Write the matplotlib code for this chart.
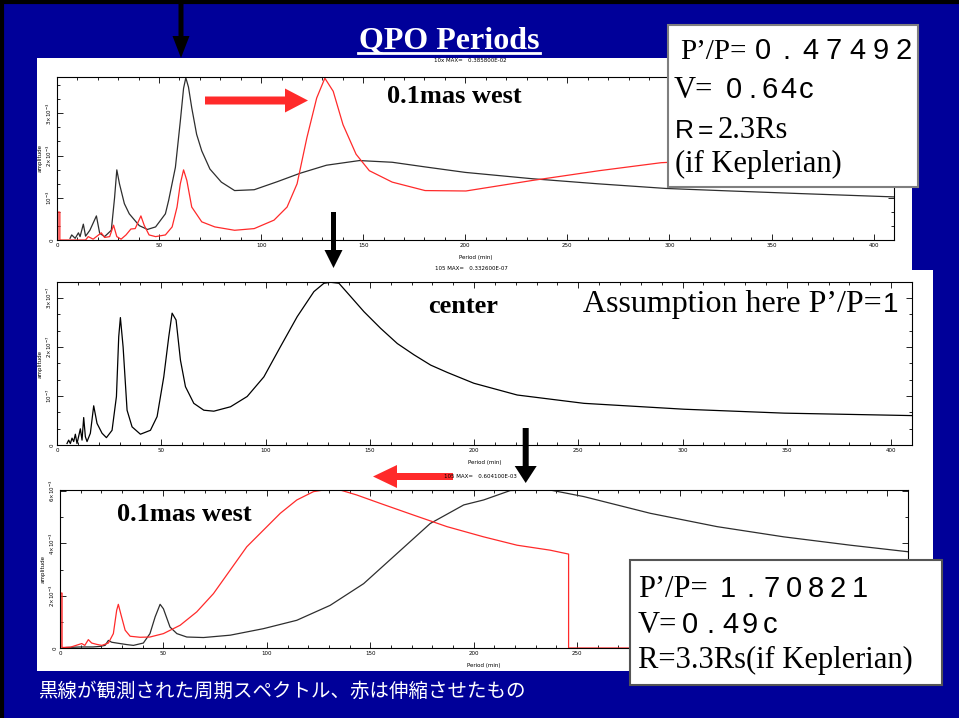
import matplotlib.pyplot as plt
from matplotlib import patches
from matplotlib.ticker import MultipleLocator

W, H = 959, 718
BLUE = "#000099"
RED = "#ff2a2a"
DARK = "#2e2e2e"
SERIF = ["Liberation Serif", "Noto Sans CJK JP"]
NARROW = ["Liberation Sans Narrow", "Liberation Sans", "DejaVu Sans"]

# --- panel 1: 0.1 mas west, stretched (amplitude in 1e-3) ---
west1_obs_period = [6.4, 7.2, 8.9, 10.5, 11.3, 12.9, 14.0, 16.1, 19.3, 20.9, 23.3, 26.6,
                    28.2, 29.3, 30.6, 33.0, 35.4, 40.3, 44.3, 48.3, 53.1, 54.7, 58.0, 60.4,
                    62.0, 63.1, 64.4, 66.0, 68.4, 70.9, 74.9, 80.5, 87.0, 96.6, 107.9, 119.1,
                    132.0, 148.1, 164.2, 180.3, 200.0, 232.8, 265.0, 298.3, 330.0, 363.3, 410.0]
west1_obs_amp = [0.04, 0.12, 0.04, 0.17, 0.08, 0.375, 0.09, 0.23, 0.57, 0.16, 0.08, 0.23,
                 1.0, 1.66, 1.33, 0.86, 0.62, 0.34, 0.25, 0.31, 0.62, 0.94, 1.72, 2.81,
                 3.59, 3.84, 3.62, 3.13, 2.5, 2.11, 1.68, 1.37, 1.17, 1.19, 1.38, 1.58,
                 1.77, 1.88, 1.84, 1.73, 1.60, 1.45, 1.33, 1.22, 1.16, 1.10, 1.02]
west1_str_period = [0.0, 0.5, 0.5, 1.4, 1.4, 14.0, 15.3, 17.7, 21.7, 23.3, 25.8, 27.7,
                    29.3, 31.4, 33.8, 36.2, 38.3, 41.1, 42.7, 45.1, 48.3, 53.1, 56.4, 58.8,
                    60.4, 62.0, 63.6, 66.0, 70.9, 77.3, 87.0, 96.6, 106.3, 112.7, 117.6, 122.4,
                    127.2, 131.2, 135.3, 140.1, 146.5, 153.0, 164.2, 180.3, 200.3, 232.9, 265.5,
                    296.0, 320.0, 350.0, 380.0, 410.0]
west1_str_amp = [0.0, 0.0, 0.66, 0.66, 0.0, 0.0, 0.08, 0.02, 0.17, 0.06, 0.08, 0.35,
                 0.08, 0.02, 0.12, 0.26, 0.27, 0.57, 0.35, 0.12, 0.08, 0.12, 0.31, 0.78,
                 1.33, 1.66, 1.41, 0.78, 0.43, 0.31, 0.23, 0.27, 0.47, 0.78, 1.33, 2.42,
                 3.36, 3.83, 3.52, 2.73, 2.03, 1.64, 1.37, 1.17, 1.16, 1.41, 1.64,
                 1.83, 1.88, 1.86, 1.80, 1.74]

# --- panel 2: center (amplitude in 1e-7) ---
center_period = [4.8, 5.6, 6.4, 7.2, 8.0, 8.8, 9.6, 11.2, 12.0, 12.8, 13.6, 14.4, 16.0,
                 17.6, 19.2, 21.6, 23.7, 26.4, 28.5, 29.6, 30.4, 31.7, 33.6, 36.0, 40.0,
                 44.8, 48.0, 51.2, 53.6, 55.2, 57.1, 59.2, 61.6, 65.6, 70.4, 75.2, 83.2,
                 91.2, 99.2, 107.2, 115.2, 123.2, 128.0, 131.2, 135.2, 140.8, 147.2, 155.2,
                 163.2, 171.2, 179.2, 187.2, 199.9, 220.7, 252.7, 300.7, 348.7, 410.0]
center_amp = [0.03, 0.1, 0.03, 0.14, 0.07, 0.22, 0.03, 0.33, 0.1, 0.56, 0.17, 0.07, 0.24,
              0.80, 0.44, 0.24, 0.15, 0.3, 0.99, 2.21, 2.60, 2.0, 0.71, 0.37, 0.22,
              0.3, 0.58, 1.39, 2.21, 2.69, 2.55, 1.73, 1.19, 0.85, 0.71, 0.69, 0.78,
              0.99, 1.39, 2.01, 2.62, 3.13, 3.30, 3.32, 3.30, 3.03, 2.72, 2.38,
              2.07, 1.84, 1.63, 1.48, 1.26, 1.02, 0.85, 0.73, 0.65, 0.60]

# --- panel 3: 0.1 mas west, compressed (amplitude in 1e-3) ---
west3_obs_period = [3.0, 10.0, 16.0, 19.3, 21.8, 23.4, 25.0, 27.4, 32.3, 35.5, 40.3, 43.5,
                    46.0, 48.4, 50.0, 53.2, 56.5, 61.3, 69.4, 82.3, 98.4, 114.5, 130.6,
                    146.8, 162.9, 179.0, 195.2, 204.8, 217.7, 225.8, 237.0, 253.2, 285.4,
                    317.7, 349.9, 382.2, 410.0]
west3_obs_amp = [0.02, 0.04, 0.04, 0.06, 0.1, 0.29, 0.22, 0.19, 0.13, 0.1, 0.19, 0.55,
                 1.19, 1.67, 1.5, 0.80, 0.55, 0.42, 0.40, 0.49, 0.74, 1.06, 1.63,
                 2.46, 3.61, 4.76, 5.47, 5.66, 6.02, 6.04, 6.04, 5.79, 5.15,
                 4.64, 4.25, 3.93, 3.68]
west3_str_period = [0.0, 0.3, 0.3, 1.0, 1.0, 5.0, 10.5, 12.0, 13.7, 15.3, 17.7, 20.2, 23.4,
                    25.8, 27.4, 28.2, 29.4, 31.5, 33.9, 38.7, 43.5, 50.0, 58.1, 66.1, 74.2,
                    82.3, 90.3, 98.4, 106.5, 114.5, 122.6, 127.4, 135.5, 143.5, 154.8, 171.0,
                    187.1, 204.8, 221.0, 237.0, 245.9, 245.9, 410.0]
west3_str_amp = [0.0, 0.0, 2.1, 2.1, 0.02, 0.03, 0.17, 0.1, 0.32, 0.19, 0.14, 0.1, 0.19,
                 0.55, 1.44, 1.67, 1.3, 0.68, 0.45, 0.41, 0.42, 0.55, 0.87, 1.38, 2.08,
                 2.98, 3.87, 4.51, 5.15, 5.66, 5.98, 6.04, 6.04, 5.85, 5.53, 5.08,
                 4.64, 4.25, 3.93, 3.74, 3.59, 0.0, 0.0]

x_ticks = [0, 50, 100, 150, 200, 250, 300, 350, 400]
p1_ymax, p1_yticks = 3.858, [0, 1, 2, 3]
p1_ylabels = ["0", r"$10^{-3}$", r"$2{\times}10^{-3}$", r"$3{\times}10^{-3}$"]
p2_ymax, p2_yticks = 3.326, [0, 1, 2, 3]
p2_ylabels = ["0", r"$10^{-7}$", r"$2{\times}10^{-7}$", r"$3{\times}10^{-7}$"]
p3_ymax, p3_yticks = 6.041, [0, 2, 4, 6]
p3_ylabels = ["0", r"$2{\times}10^{-3}$", r"$4{\times}10^{-3}$", r"$6{\times}10^{-3}$"]

fig = plt.figure(figsize=(W / 100, H / 100), dpi=100)
fig.patch.set_facecolor(BLUE)

# background: white slide area
bg = fig.add_axes([0, 0, 1, 1], zorder=0)
bg.set_xlim(0, W)
bg.set_ylim(H, 0)
bg.axis("off")
bg.add_patch(patches.Rectangle((37, 58), 875, 212, color="white", lw=0))
bg.add_patch(patches.Rectangle((37, 270), 896, 401, color="white", lw=0))
bg.plot([0, W], [1.5, 1.5], color="black", lw=3)
bg.plot([1.5, 1.5], [0, H], color="black", lw=3)


def panel(left, top, right, bottom, ymax, yticks, ylabels, yminor, xlabels=None):
    ax = fig.add_axes([left / W, 1 - bottom / H, (right - left) / W, (bottom - top) / H], zorder=2)
    ax.set_xlim(0, 410)
    ax.set_ylim(0, ymax)
    ax.set_xticks(x_ticks)
    ax.set_xticklabels(xlabels or [str(t) for t in x_ticks])
    ax.xaxis.set_minor_locator(MultipleLocator(10))
    ax.set_yticks(yticks)
    ax.set_yticklabels(ylabels, rotation=90, va="center")
    ax.yaxis.set_minor_locator(MultipleLocator(yminor))
    ax.tick_params(which="both", direction="in", top=True, right=True,
                   labelsize=4, pad=2, width=0.6)
    ax.tick_params(which="major", length=4)
    ax.tick_params(which="minor", length=2)
    ax.set_ylabel("amplitude", fontsize=4, labelpad=2)
    ax.set_xlabel("Period (min)", fontsize=4, labelpad=5)
    for s in ax.spines.values():
        s.set_linewidth(0.8)
    return ax


ax1 = panel(57, 77, 894, 240, p1_ymax, p1_yticks, p1_ylabels, 1 / 3)
ax1.plot(west1_obs_period, west1_obs_amp, color=DARK, lw=0.9)
ax1.plot(west1_str_period, west1_str_amp, color=RED, lw=0.9)

ax2 = panel(57, 282, 912, 445, p2_ymax, p2_yticks, p2_ylabels, 1 / 3)
ax2.plot(center_period, center_amp, color="black", lw=0.9)

# the right-hand tick labels of the last panel sit under the text box
p3_xlabels = [str(t) if t < 300 else "" for t in x_ticks]
ax3 = panel(60, 490, 908, 648, p3_ymax, p3_yticks, p3_ylabels, 1, p3_xlabels)
ax3.plot(west3_obs_period, west3_obs_amp, color=DARK, lw=0.9)
ax3.plot(west3_str_period, west3_str_amp, color=RED, lw=0.9)

# overlay: annotations
ov = fig.add_axes([0, 0, 1, 1], zorder=10)
ov.set_xlim(0, W)
ov.set_ylim(H, 0)
ov.axis("off")
ov.patch.set_alpha(0)


def spaced(x0, y, chars, pitch, size=21):
    # evenly pitched glyphs, like the full-width digits of the slide
    for i, ch in enumerate(chars):
        ov.text(x0 + i * pitch, y, ch, fontsize=size, family=NARROW, ha="center", va="baseline")


ov.text(470, 61, "10x MAX=   0.385800E-02", fontsize=4, ha="center", va="center")
ov.text(471, 269, "105 MAX=   0.332600E-07", fontsize=4, ha="center", va="center")
ov.text(480, 476, "105 MAX=   0.604100E-03", fontsize=4, ha="center", va="center")

ov.text(449, 48, "QPO Periods", color="white", fontsize=23, fontweight="bold",
        family=SERIF, ha="center", va="baseline")
ov.plot([358, 540], [53, 53], color="white", lw=2)

ov.text(387, 103, "0.1mas west", fontsize=19, fontweight="bold", family=SERIF, va="baseline")
ov.text(428, 313, "center", fontsize=19, fontweight="bold", family=SERIF, va="baseline")
ov.text(117, 521, "0.1mas west", fontsize=19, fontweight="bold", family=SERIF, va="baseline")
ov.text(583, 312, "Assumption here P’/P=", fontsize=23, family=SERIF, va="baseline")
spaced(891, 312, "1", 0, size=20)

for x, y0, y1, w, hw, hl in [(181, 0, 58, 5, 17, 22), (333.5, 212, 268, 5, 18, 18),
                              (525.7, 428, 483, 6, 22, 17)]:
    ov.add_patch(patches.FancyArrow(x, y0, 0, y1 - y0, width=w, head_width=hw, head_length=hl,
                                    length_includes_head=True, color="black", lw=0))
ov.add_patch(patches.FancyArrow(205, 100.5, 103, 0, width=8, head_width=24, head_length=23,
                                length_includes_head=True, color=RED, lw=0))
ov.add_patch(patches.FancyArrow(453, 476.5, -80, 0, width=7, head_width=23, head_length=24,
                                length_includes_head=True, color=RED, lw=0))

ov.add_patch(patches.Rectangle((668, 25), 250, 162, facecolor="white", edgecolor="#7f7f7f", lw=1.5))
ov.text(680, 59, "P’/P=", fontsize=21, family=SERIF, va="baseline")
spaced(763, 59, "0.47492", 23.5)
ov.text(674, 98, "V=", fontsize=22, family=SERIF, va="baseline")
spaced(734, 98, "0.64c", 18)
ov.text(684, 138, "R", fontsize=19, family=NARROW, ha="center", va="baseline")
ov.text(705, 138, "=", fontsize=19, family=NARROW, ha="center", va="baseline")
ov.text(718, 138, "2.3Rs", fontsize=22, family=SERIF, va="baseline")
ov.text(675, 172, "(if Keplerian)", fontsize=22, family=SERIF, va="baseline")

ov.add_patch(patches.Rectangle((630, 560), 312, 125, facecolor="white", edgecolor="#555555", lw=1.5))
ov.text(638, 597, "P’/P=", fontsize=22, family=SERIF, va="baseline")
spaced(728, 597, "1.70821", 22)
ov.text(638, 633, "V=", fontsize=22, family=SERIF, va="baseline")
spaced(690, 633, "0.49c", 20)
ov.text(638, 668, "R=3.3Rs(if Keplerian)", fontsize=22, family=SERIF, va="baseline")

ov.text(38, 691, "黒線が観測された周期スペクトル、赤は伸縮させたもの", color="white", fontsize=14,
        family=["Noto Sans CJK JP", "DejaVu Sans"], va="center")

fig.savefig("out.png", dpi=100, facecolor=BLUE)
